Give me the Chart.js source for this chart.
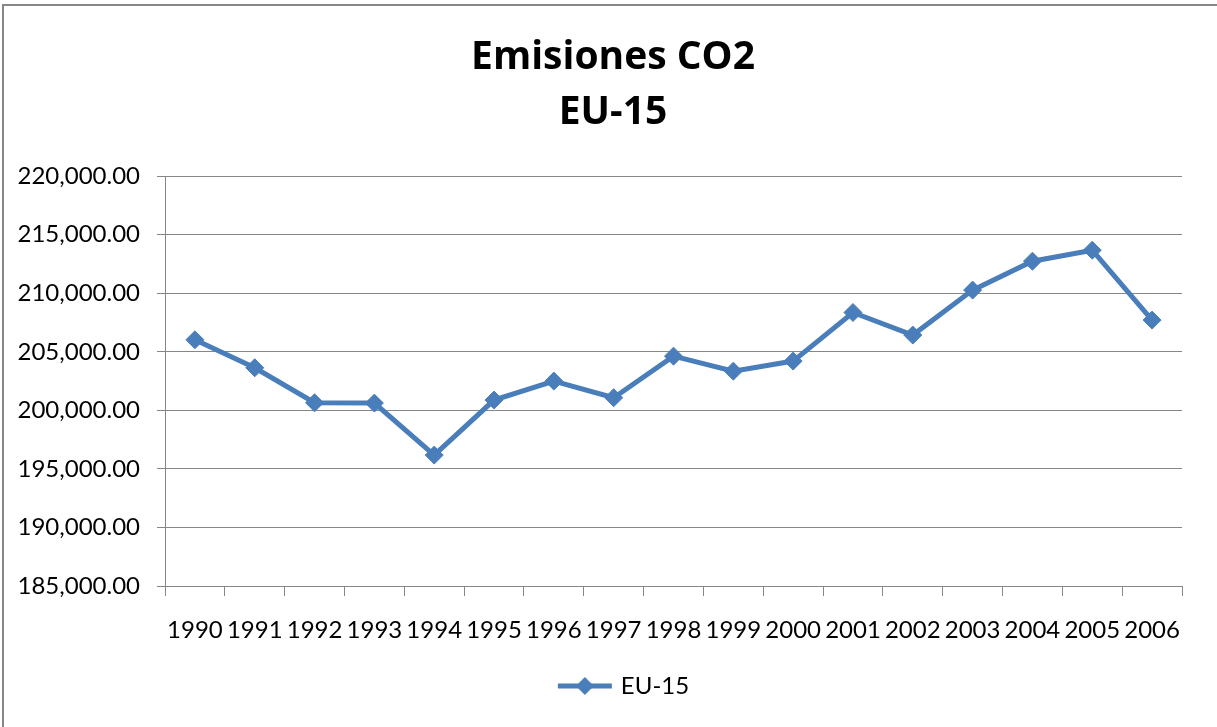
<!DOCTYPE html>
<html>
<head>
<meta charset="utf-8">
<script src="https://cdn.jsdelivr.net/npm/chart.js"></script>
<style>
  body { margin: 0; background: #fff; overflow: hidden; }
  #wrap { position: absolute; left: 0; top: 0; width: 1217px; height: 727px; }
  #frame { position: absolute; left: 2px; top: 4px; width: 1300px; height: 800px;
           border-top: 2px solid #878787; border-left: 2px solid #878787; pointer-events: none; }
</style>
</head>
<body>
<div id="wrap"><canvas id="myChart" width="1217" height="727"></canvas></div>
<div id="frame"></div>
<script>
const years = ['1990','1991','1992','1993','1994','1995','1996','1997','1998','1999','2000','2001','2002','2003','2004','2005','2006'];
const emisiones = [206030, 203640, 200650, 200620, 196180, 200880, 202500, 201080, 204630, 203350, 204210, 208360, 206430, 210270, 212740, 213680, 207710];
const titulo = ['Emisiones CO2', 'EU-15'];
const serie = 'EU-15';
const yMin = 185000, yMax = 220000, yStep = 5000;

const azul = '#4a7ebb';
const gris = '#878787';

// legend icon: line with a diamond in the middle
function legendIcon(){
	const c = document.createElement('canvas');
	c.width = 56; c.height = 20;
	const g = c.getContext('2d');
	g.strokeStyle = azul;
	g.lineWidth = 5;
	g.beginPath(); g.moveTo(1, 10); g.lineTo(55, 10); g.stroke();
	g.fillStyle = azul;
	g.beginPath();
	g.moveTo(28, 1); g.lineTo(37, 10); g.lineTo(28, 19); g.lineTo(19, 10);
	g.closePath(); g.fill();
	return c;
}

const ctx = document.getElementById('myChart');
const icon = legendIcon();

// title and legend are not centred on the canvas in the original
const shiftBoxes = {
	id: 'shiftBoxes',
	afterLayout(chart){
		chart.titleBlock.left += 22;
		chart.titleBlock.right += 22;
		chart.legend.left += 34;
		chart.legend.right += 34;
	}
};

myChart = new Chart(ctx, {
	type: 'line',
	data: {
	  labels: years,
	  datasets: [{
	    label: serie,
	    data: emisiones,
	    borderColor: azul,
	    backgroundColor: azul,
	    borderWidth: 5,
	    pointStyle: 'rectRot',
	    pointRadius: 9,
	    pointBorderWidth: 1,
	    pointBackgroundColor: azul,
	    tension: 0
	  }]
	},
	plugins: [shiftBoxes],
	options: {
	  responsive: false,
	  animation: false,
	  layout: { padding: { left: 0, right: 35, top: 0, bottom: 19 } },
	  scales: {
	    x: {
	      offset: true,
	      grid: { offset: true, drawOnChartArea: false, drawTicks: true, tickLength: 10, color: gris, lineWidth: 1 },
	      border: { display: true, color: gris, width: 1 },
	      ticks: { color: '#000', padding: 20, maxRotation: 0, autoSkip: false, font: { family: 'Lato', size: 24 } },
	      afterFit(scale){ scale.height = 78; }
	    },
	    y: {
	      min: yMin,
	      max: yMax,
	      grid: { color: gris, lineWidth: 1, tickLength: 8 },
	      border: { display: true, color: gris, width: 1 },
	      ticks: {
	        stepSize: yStep,
	        color: '#000',
	        padding: 17,
	        font: { family: 'Lato', size: 24 },
	        callback: function(v){ return v.toLocaleString('en-US', {minimumFractionDigits: 2, maximumFractionDigits: 2}); }
	      },
	      afterFit(scale){ scale.width = 165; }
	    }
	  },
	  plugins: {
	    title: {
	      display: true,
	      text: titulo,
	      color: '#000',
	      font: { family: 'Open Sans', size: 39, weight: 'bold', lineHeight: 1.4 },
	      padding: { top: 31, bottom: 36 }
	    },
	    legend: {
	      position: 'bottom',
	      labels: {
	        usePointStyle: true,
	        pointStyleWidth: 48,
	        color: '#000',
	        font: { family: 'Lato', size: 24 },
	        generateLabels: function(chart){
	          return [{ text: serie, pointStyle: icon, fillStyle: azul, strokeStyle: azul, lineWidth: 0, datasetIndex: 0 }];
	        }
	      }
	    },
	    tooltip: { enabled: false }
	  }
	}
});
</script>
</body>
</html>
